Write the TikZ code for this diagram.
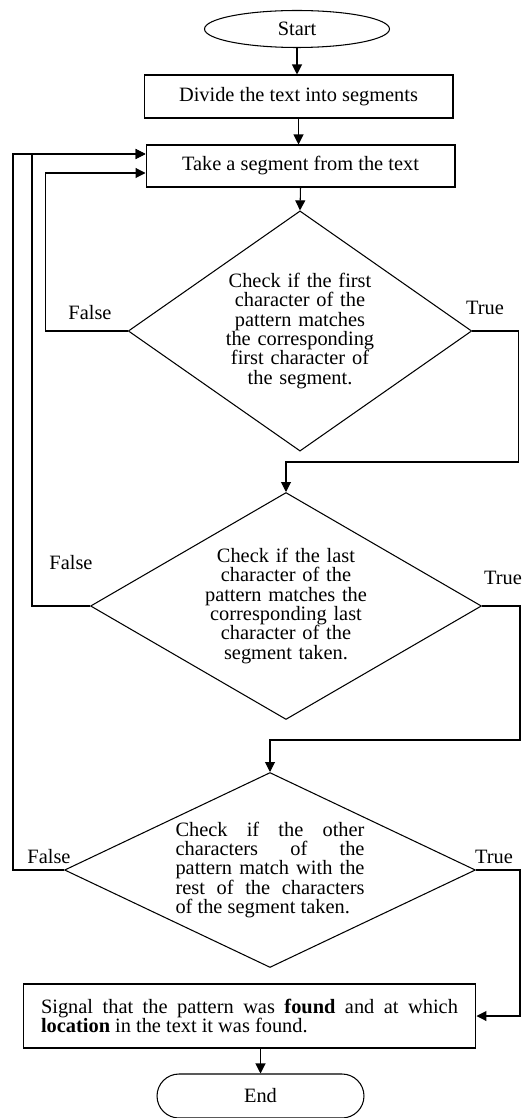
\documentclass[tikz,border=0pt]{standalone}
\usepackage{fontspec}
\setmainfont{Liberation Serif}
\usepackage{tikz}
\usetikzlibrary{shapes.geometric, arrows.meta, calc}

\begin{document}
\begin{tikzpicture}[x=0.02cm, y=-0.02cm, >={Triangle[length=2mm, width=2mm]},
        line width=0.6pt,
        every node/.style={font=\fontsize{11.6}{11}\selectfont},
        box/.style={draw, rectangle, inner sep=2pt},
        decision/.style={draw, diamond, inner sep=1pt, align=center},
        lbl/.style={inner sep=0pt}]
        \useasboundingbox (0,0) rectangle (521,1118);
        \node[draw, ellipse, minimum width=3.7cm, minimum height=0.74cm, inner sep=0pt] (start) at (297,29) {Start};
        \node[box, minimum width=6.18cm, minimum height=0.86cm] (divide) at (298.5,96.5) {Divide the text into segments};
        \node[box, minimum width=6.18cm, minimum height=0.84cm] (take) at (300.5,166) {Take a segment from the text};
        \node[decision, minimum width=6.8cm, minimum height=4.74cm, aspect=1.43, text width=3.4cm] (first) at (300,331)
            {Check if the first\\ character of the\\ pattern matches\\ the corresponding\\ first character of\\ the segment.};
        \node[decision, minimum width=7.82cm, minimum height=4.54cm, aspect=1.72, text width=3.5cm] (last) at (286,606)
            {Check if the last\\ character of the\\ pattern matches the\\ corresponding last\\ character of the\\ segment taken.};
        \node[decision, minimum width=8.22cm, minimum height=3.9cm, aspect=2.1, text width=3.78cm, align=justify] (rest) at (270,870)
            {Check if the other\linebreak characters of the\linebreak pattern match with the\linebreak rest of the characters\linebreak of the segment taken.};
        \node[box, minimum width=9.06cm, minimum height=1.28cm, text width=8.34cm, align=justify] (signal) at (249.5,1016)
            {Signal that the pattern was \textbf{found} and at which\linebreak \textbf{location} in the text it was found.\par\vspace{4mm}};
        \node[draw, rounded corners=0.44cm, minimum width=4.14cm, minimum height=0.88cm] (stop) at (260.5,1096) {End};
        % 分支标签
        \node[lbl] (f1) at (90,313) {False};
        \node[lbl] (t1) at (485,308) {True};
        \node[lbl] (f2) at (71,563) {False};
        \node[lbl] (t2) at (503,578) {True};
        \node[lbl] (f3) at (49,857) {False};
        \node[lbl] (t3) at (494,857) {True};
        % 回到 take 的入口
        \coordinate (in1) at ($(take.west)+(0,-12)$);
        \coordinate (in2) at ($(take.west)+(0,7)$);
        \draw[->] (start.south) -- (start.south |- divide.north);
        \draw[->] (divide.south) -- (divide.south |- take.north);
        \draw[->] (take.south) -- (first.north);
        \draw[->] (first.west) -- ++(-82,0) |- (in2);   % False: 重新取段
        \draw[->] (last.west) -- ++(-58,0) |- (in1);
        \draw[->] (rest.west) -- ++(-51,0) |- (in1);
        \draw[->] (first.east) -- ++(46,0) |- ($(last.north)+(0,-30)$) -- (last.north);   % True
        \draw[->] (last.east) -- ++(38,0) |- ($(rest.north)+(0,-32)$) -- (rest.north);
        \draw[->] (rest.east) -- ++(44,0) |- (signal.east);
        \draw[->] (stop.north |- signal.south) -- (stop.north);
    \end{tikzpicture}
\end{document}
